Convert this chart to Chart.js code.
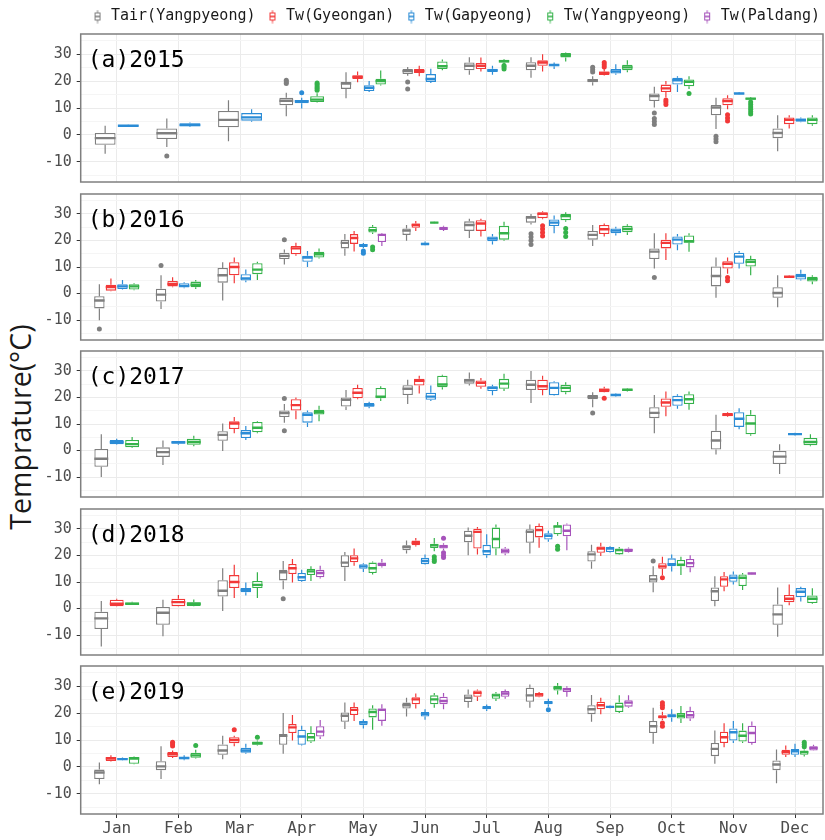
<!DOCTYPE html>
<html>
<head>
<meta charset="utf-8">
<title>Monthly temperature box plots</title>
<script src="https://cdn.jsdelivr.net/npm/chart.js@4.4.1/dist/chart.umd.min.js"></script>
<style>
  html, body { margin: 0; padding: 0; background: #fff; width: 825px; height: 840px; overflow: hidden; position: relative; }
  canvas.panel { position: absolute; left: 0; }
  #ytitle {
    position: absolute; left: 20px; top: 427px;
    transform: translate(-50%, -50%) rotate(-90deg);
    font: 28.5px "Open Sans", sans-serif; color: #1a1a1a; white-space: nowrap;
  }
</style>
</head>
<body>
<div id="ytitle">Temprature(°C)</div>
<script>
// ---- data: each entry is [lower whisker, Q1, median, Q3, upper whisker, [outliers]] ----
var months = ["Jan", "Feb", "Mar", "Apr", "May", "Jun", "Jul", "Aug", "Sep", "Oct", "Nov", "Dec"];
var seriesNames = ["Tair(Yangpyeong)", "Tw(Gyeongan)", "Tw(Gapyeong)", "Tw(Yangpyeong)", "Tw(Paldang)"];
var seriesColors = ["#7f7f7f", "#f23838", "#2b8cd6", "#35b24a", "#a653bb"];
var panelTags = ["(a)2015", "(b)2016", "(c)2017", "(d)2018", "(e)2019"];
var yTickValues = [-15, -10, -5, 0, 5, 10, 15, 20, 25, 30, 35];

var tair2015 = [[-7, -3.7, -1.2, 0.7, 3.4], [-4.5, -1.5, 0.6, 2.4, 6.1, [-7.8]], [-2.4, 2.8, 5.6, 8.9, 12.9],
  [6.9, 11, 12.7, 13.8, 15.7, [19.1, 19.7, 20.3]], [13.6, 17.1, 19.1, 19.7, 23.3], [22, 22.6, 23.7, 24.5, 25.2, [19.7, 17.1]],
  [22.4, 24, 25.7, 26.9, 28.9], [21.2, 24, 25.7, 27, 28.9], [18.4, 19.6, 20.2, 20.8, 21.8, [23.4, 24.2, 25.1]],
  [10.2, 12.6, 14.4, 15.4, 17.9, [8.1, 6.1, 5, 3.9]], [2.2, 7.3, 10.2, 11.1, 13.8, [-0.5, -1.5, -2.5]], [-6.1, -1.2, 0.7, 2.4, 7.3]];
var gyeongan2015 = [null, null, null, null, [19.6, 20.8, 21.5, 22.2, 23.6], [21.8, 23, 23.7, 24.5, 25.7],
  [23.6, 24.5, 25.7, 26.7, 28.8], [23.6, 25.7, 26.9, 27.7, 30], [22.1, 22.3, 23, 23.6, 24.5, [25.2, 26.1, 26.9]],
  [14, 15.9, 17.3, 18.7, 20, [13, 12.2, 11.3]], [9.5, 11, 12.6, 13.6, 14.7, [7.5, 6.3, 5.2]], [2.4, 4, 5.6, 6.5, 7.3]];
var gapyeong2015 = [[3, 3.2, 3.4, 3.6, 3.8], [2.9, 3.2, 3.7, 4.3, 4.6], [4.9, 5.3, 6.5, 8.1, 9.5],
  [9.8, 11.8, 12.5, 13, 13.8, [15.7]], [15.9, 16.3, 17.5, 18.5, 20], [19.3, 19.7, 20.8, 22.6, 24.6],
  [22.4, 23.4, 24, 24.6, 25.7], [24.5, 25.5, 26, 26.3, 26.9], [22.4, 22.8, 23.6, 24.5, 26.3],
  [15.9, 18.7, 20.3, 21.2, 21.8], [15, 15.1, 15.4, 15.7, 15.9], [4.7, 4.9, 5.6, 6.1, 6.5]];
var yangpyeong2015 = [null, null, null, [12, 12.2, 13.1, 14.4, 15.5, [16.6, 17.3, 18, 18.7, 19.3]], [18.4, 18.7, 20, 20.9, 23.9],
  [24, 24.5, 25.5, 27.3, 28], [26.1, 26.9, 27.4, 27.9, 28.2, [24.5, 25.2, 25.8]], [27.3, 28.8, 29.6, 30.4, 30.6],
  [23.3, 24, 25.1, 26.1, 27.7], [17.1, 18.1, 19.7, 20.6, 21.8, [15.4]],
  [13, 13.1, 13.5, 13.8, 14.1, [12.2, 11.3, 10.4, 9.5, 8.6, 7.8]], [3.4, 4, 5.6, 6.5, 7.3]];
var paldang2015 = [null, null, null, null, null, null, null, null, null, null, null, null];

var tair2016 = [[-10.1, -5.6, -2.6, -1, 3.5, [-13.4]], [-5.8, -3, -0.4, 1.8, 6.9, [10.6]], [-2.6, 4.1, 6.9, 9.6, 11.8],
  [10.9, 13, 14.2, 15.4, 16.6, [20.3]], [14.2, 17, 19.1, 20.3, 22.4], [19.9, 22.1, 23.7, 24.5, 25.8],
  [20.9, 23.6, 25.8, 27.2, 28.2], [26, 26.7, 28.6, 29.2, 30, [22.5, 21.3, 20, 18.5]], [17.9, 20.3, 22.1, 23.6, 25.8],
  [9.4, 13, 15.8, 17, 22.7, [6]], [-1.6, 2.7, 6.6, 10.2, 13.6], [-5.2, -1.6, 0.2, 2.4, 6.9]];
var gyeongan2016 = [[0.9, 1.1, 2.4, 3.3, 5.7], [2.4, 2.7, 3.6, 4.7, 6.1], [3.9, 6.9, 10, 11.8, 13.6],
  [14.2, 14.8, 17, 17.9, 19.1], [15.8, 18.7, 20.9, 22.4, 23.6], [23.6, 24.8, 25.8, 26.4, 27.3],
  [21.5, 23.6, 26.4, 27.6, 28.2], [28, 28.4, 30, 30.6, 31, [25.5, 24.3, 23, 21.7]], [21.5, 22.4, 24.2, 25.8, 26.4],
  [12.6, 17, 19.1, 20.3, 22.7], [7.5, 9.4, 11.2, 12.2, 13.6, [6, 4.8]], [5.9, 6.1, 6.3, 6.6, 6.8]];
var gapyeong2016 = [[1.5, 1.7, 2.7, 3.5, 5.1], [2, 2.3, 2.9, 3.9, 4.3], [4.3, 4.9, 5.7, 7.3, 9.1],
  [10, 12, 13.6, 14.2, 16], [17.2, 17.5, 18.2, 18.7, 19, [16, 15.2]], [18, 18.1, 18.7, 19.1, 19.6],
  [18.5, 19.7, 20.7, 21.5, 22.4], [22.7, 25.4, 26.7, 27.9, 29.4], [21.9, 22.7, 23.7, 24.5, 25.2],
  [16.3, 18.5, 20.3, 21.5, 22.4], [9.4, 11.2, 13.9, 15.4, 16], [4.9, 5.3, 6.6, 7.5, 9]];
var yangpyeong2016 = [[1.2, 1.5, 2.7, 3.5, 3.9], [1.7, 2.4, 3.3, 4.5, 5.1], [5.1, 7.3, 9, 11.4, 12],
  [13.2, 13.6, 14.8, 15.7, 17], [22.4, 23, 23.9, 25.2, 25.8, [17.5, 16.5]], [26.4, 26.5, 26.7, 26.9, 27],
  [19.9, 20.3, 22.7, 25.5, 27], [27, 27.6, 29.2, 30, 30.6, [24.5, 23, 21.5]], [22.1, 23.1, 24.3, 25.5, 26.1],
  [15.7, 19.1, 19.7, 21.9, 22.7], [6.9, 10.2, 12, 13, 14.2], [3.5, 4.5, 5.5, 6.3, 6.9]];
var paldang2016 = [null, null, null, null, [17.9, 19.4, 22.1, 22.4, 22.7], [23.6, 23.9, 24.5, 25.2, 25.5],
  null, null, null, null, null, null];

var tair2017 = [[-10, -6.1, -3.1, 0.6, 6.1], [-5.4, -2.4, -0.6, 1.2, 3.8], [-0.2, 3.7, 5.9, 7.3, 10.2],
  [10.5, 12.6, 14.1, 15.1, 17.5, [19.6, 7.5]], [15.3, 16.6, 19.1, 20, 22.8], [17.5, 20.9, 23.3, 24.6, 26.7],
  [24.5, 25.2, 26.4, 27, 29.4], [17.9, 22.8, 24.8, 26.7, 30], [16.3, 19.3, 20.2, 20.9, 22, [14.1]],
  [6.5, 12.2, 14.2, 16.3, 20.9], [-1.5, 0.4, 3.8, 7.5, 13.5], [-8.8, -5.1, -2.3, 0, 2.4]];
var gyeongan2017 = [null, null, [6.5, 8.1, 10.2, 11, 12.6], [11.8, 15.1, 17.1, 19.3, 20], [19.3, 19.7, 21.8, 23.6, 24.8],
  [21.5, 24.5, 26.3, 27, 28.2], [23.3, 24, 25.5, 26.4, 27.3], [20.8, 22.8, 24.2, 26.7, 28.2],
  [21.9, 22, 22.8, 23.4, 24, [19.7]], [12.9, 16.5, 18.1, 19.6, 22.2], [12.6, 12.9, 13.5, 14.1, 14.4], null];
var gapyeong2017 = [[2.2, 2.4, 3.1, 4, 4.4], [2.2, 2.6, 3.1, 3.4, 3.6], [4, 4.7, 6.5, 7.7, 9.2],
  [8.9, 10.5, 13.5, 14.4, 15.1], [15.9, 16.5, 17.1, 17.9, 18.4], [18.7, 19.1, 20.3, 21.8, 24.5],
  [20.8, 22.4, 23.6, 24.2, 24.8], [20.6, 20.8, 23.6, 25.7, 26.1], [20.4, 20.6, 20.9, 21.4, 21.6],
  [15.7, 16.9, 19, 20.6, 21.2], [8, 8.9, 12, 14.4, 15.9], [5.7, 5.9, 6.2, 6.5, 6.7]];
var yangpyeong2017 = [[1, 1.2, 2.4, 4, 5.1], [1.6, 2.2, 3.2, 4.4, 5.6], [6.5, 6.9, 8.6, 10.8, 11],
  [11, 13.6, 14.4, 15.4, 16.9], [18.7, 19.7, 20.3, 23.6, 24.2], [23, 23.8, 24.9, 28.2, 28.6],
  [22.4, 23.3, 25.2, 27, 28.9], [21.2, 22, 23.6, 24.8, 25.7], [22.2, 22.4, 22.9, 23.3, 23.5],
  [15.4, 17.5, 19.3, 21.2, 22.2], [5.6, 6.1, 10.2, 13.5, 15.3], [1.6, 2, 3.2, 4.7, 6.1]];
var paldang2017 = [null, null, null, null, null, null, null, null, null, null, null, null];

var tair2018 = [[-14.3, -7.7, -3.7, -1.2, 2.8], [-10.4, -6.1, -1.6, 0.6, 3.3], [-0.9, 4.5, 6.7, 10.7, 15.2],
  [7.3, 10.6, 13.7, 14.6, 17.9, [3.7]], [10.4, 15.6, 17.3, 20.1, 21.3], [20.7, 22, 23.2, 23.8, 25.6],
  [20.1, 25, 27.4, 29.3, 30.5], [20.7, 24.8, 28.9, 29.9, 31.7], [15, 17.7, 20.4, 21.6, 24],
  [6.1, 9.8, 11, 12.6, 15.9, [17.9]], [0.9, 2.8, 6.5, 7.9, 12.2], [-10.6, -6.1, -2.2, 1.5, 7.9]];
var gyeongan2018 = [[0.8, 0.9, 1.8, 3.3, 3.7], [0.8, 0.9, 2.4, 3.7, 5.1], [4, 7.7, 10, 12.6, 16.5],
  [9.8, 13, 15.2, 16.8, 18.7], [16.1, 17.4, 18.9, 20.1, 22.6], [23.4, 23.8, 24.8, 25.6, 26.6],
  [20.4, 22.6, 28.9, 30.1, 30.7], [22.9, 26.8, 29.6, 31.1, 32], [19.8, 21, 22.6, 23.4, 24.8],
  [12.6, 15, 15.9, 17.1, 19.5, [11.6]], [6.5, 8.2, 11, 12.2, 13.8], [1.2, 2.4, 3.7, 5.1, 9.1]];
var gapyeong2018 = [null, null, [4.9, 6.1, 7, 7.7, 9.8], [10.1, 10.4, 11.8, 13.4, 14.6], [13.8, 15, 15.9, 16.7, 17.1],
  [16.5, 16.7, 17.9, 19.1, 20.4], [19.1, 20.1, 21.6, 24, 28], [25.2, 26, 27.4, 28.4, 29.3],
  [21.1, 21.3, 22.6, 23.2, 23.5], [14, 15.9, 16.7, 18.9, 20.4], [9.1, 10.1, 11.6, 12.8, 14], [2.7, 4.3, 6.3, 7.7, 8.2]];
var yangpyeong2018 = [[1.3, 1.5, 1.8, 2.3, 2.6], [0.9, 1, 1.8, 2.4, 3.4], [4, 7.7, 8.9, 10.4, 13.7],
  [10.4, 12.6, 14, 14.9, 15.9], [12.8, 13.4, 15.2, 17.3, 17.7], [21.6, 22.8, 23.8, 24.4, 26.6, [19.5, 18.5, 17.7]],
  [20.1, 22.6, 26.2, 30.5, 31.7], [27.4, 28, 30.9, 31.3, 32.6, [23.5, 22.3]], [20.2, 20.4, 22, 22.6, 23.2],
  [12.6, 15.9, 16.5, 18.3, 19.5], [7, 8.5, 11.6, 12.8, 13.4], [1.8, 2.1, 3.7, 4.9, 7.6]];
var paldang2018 = [null, null, null, [11.3, 11.8, 13.4, 14.6, 16.1], [15.5, 15.9, 16.7, 17.3, 18.7],
  [22, 22.6, 23.4, 24, 24.6, [26.5, 21, 20, 19.2]], [20.1, 20.7, 21.7, 22.6, 23.2], [22, 27.2, 29.3, 31.7, 32],
  [21.1, 21.3, 22, 22.6, 23], [13.7, 15.5, 17.1, 18.7, 20.1], [12.9, 13, 13.2, 13.4, 13.5], null];

var tair2019 = [[-6.4, -4.5, -2.1, -1, 1.6], [-4.5, -1.2, 0.2, 2.1, 7.7], [2.8, 4.5, 6.1, 8.3, 11.6],
  [4.9, 8.2, 11.6, 12.2, 20], [14.1, 16.8, 19, 20.2, 23.9], [18.7, 21.7, 22.9, 23.9, 25.7],
  [22, 24.1, 25.7, 26.9, 28.8], [22, 24.2, 26.6, 29.4, 30.6], [16.8, 19.6, 21.4, 22.9, 26.7],
  [8.6, 12.6, 15.1, 17.1, 22], [1.2, 4, 6.7, 8.9, 13.5], [-6.1, -1.2, 0.9, 2.4, 6.5]];
var gyeongan2019 = [[2, 2.2, 3.1, 3.7, 4.3], [3.3, 3.7, 4.7, 5.5, 6.1, [7.8, 8.5, 9.2]], [7.7, 8.8, 10, 11, 11.6, [13.8]],
  [9.8, 12.6, 14.7, 15.9, 19.3], [17.1, 19.3, 21.2, 22.3, 23.9], [21.7, 23.3, 25.1, 25.9, 27.3],
  [24.5, 26.1, 27.5, 28.4, 28.8], [25.9, 26.1, 26.9, 27.5, 27.8], [19.6, 21.4, 22.9, 24.2, 25.7],
  [17.4, 18, 18.6, 19.2, 20.5, [22, 22.9, 23.8, 16.3, 15.1]], [7.3, 8.9, 11, 13.1, 16.2], [3.7, 4.5, 5.5, 6.4, 8]];
var gapyeong2019 = [[2.5, 2.7, 2.9, 3.3, 3.5], [2.5, 2.8, 3.3, 3.7, 4.3], [4.9, 5.3, 6.1, 7.1, 8.6],
  [8, 8.2, 11.3, 13.8, 15.3], [14.3, 15.5, 16.5, 17.1, 17.7], [17.5, 18.7, 19.6, 20.4, 21.4],
  [20.8, 21.4, 22, 22.6, 23.2], [22.4, 23.3, 23.9, 24.5, 25.3, [21.2]], [21.8, 22, 22.3, 22.6, 22.8],
  [16.8, 18.4, 19, 19.6, 21.4], [8.9, 9.8, 12.9, 14.3, 17.1], [3.7, 4.5, 5.8, 6.7, 8.6]];
var yangpyeong2019 = [[1, 1.2, 3.1, 3.7, 3.9], [3.1, 3.4, 4.3, 5.3, 6.4, [8]], [8, 8.2, 8.8, 9.4, 9.8, [11]],
  [8.9, 9.4, 11, 12.6, 15.1], [13.8, 18.4, 20.4, 21.7, 22.9], [22, 23.3, 25.1, 26.6, 27.5],
  [24.5, 25.3, 26.6, 27.3, 27.8], [26.9, 28.4, 29.4, 30.2, 31.2], [20, 20.4, 22.4, 23.9, 26.6],
  [16.3, 18, 19, 20, 22.6], [8.9, 9.4, 11.6, 13.5, 16.2], [3.9, 4.5, 5.5, 6.1, 6.5, [7.5, 8.3, 9.2]]];
var paldang2019 = [null, null, null, [10.4, 11.3, 13.1, 15.1, 17.4], [15.3, 17.1, 21.2, 21.7, 23.3],
  [21.4, 23.3, 24.5, 26.1, 27.5], [25.3, 26.1, 27.3, 28.2, 28.8], [26.1, 27.8, 28.8, 29.4, 30],
  [22, 22.4, 23.9, 24.8, 26.6], [17.1, 18, 19.2, 20.8, 22.4], [8.2, 8.9, 12.6, 15.3, 16.9], [6, 6.1, 7, 7.7, 8.2]];

var panels = [
  [tair2015, gyeongan2015, gapyeong2015, yangpyeong2015, paldang2015],
  [tair2016, gyeongan2016, gapyeong2016, yangpyeong2016, paldang2016],
  [tair2017, gyeongan2017, gapyeong2017, yangpyeong2017, paldang2017],
  [tair2018, gyeongan2018, gapyeong2018, yangpyeong2018, paldang2018],
  [tair2019, gyeongan2019, gapyeong2019, yangpyeong2019, paldang2019]
];

// ---- layout ----
var PANEL_LEFT = 80.7;
var PANEL_H = 150;
var PANEL_STEP = 157.5;
var FIRST_TOP = 34;
var MONO = "'DejaVu Sans Mono', monospace";

/**
 * Small box-plot glyph used as legend marker.
 */
function boxIcon(color) {
  var c = document.createElement("canvas");
  c.width = 8;
  c.height = 14;
  var g = c.getContext("2d");
  g.strokeStyle = color;
  g.lineWidth = 1;
  g.beginPath();
  g.moveTo(4, 0.5);
  g.lineTo(4, 13.5);
  g.stroke();
  g.fillStyle = "#fff";
  g.fillRect(1.5, 3.5, 5, 7);
  g.strokeRect(1.5, 3.5, 5, 7);
  g.lineWidth = 1.6;
  g.beginPath();
  g.moveTo(1.5, 7);
  g.lineTo(6.5, 7);
  g.stroke();
  return c;
}
var icons = seriesColors.map(boxIcon);

/**
 * Draws background, whiskers, medians, outliers, panel border and tag.
 */
var boxParts = {
  id: "boxParts",
  beforeDraw: function (chart) {
    var a = chart.chartArea;
    var ctx = chart.ctx;
    ctx.save();
    ctx.fillStyle = "#fff";
    ctx.fillRect(a.left, a.top, a.right - a.left, a.bottom - a.top);
    ctx.restore();
  },
  beforeDatasetsDraw: function (chart) {
    var y = chart.scales.y;
    var ctx = chart.ctx;
    var a = chart.chartArea;
    ctx.save();
    ctx.beginPath();
    ctx.rect(a.left, a.top, a.right - a.left, a.bottom - a.top);
    ctx.clip();
    chart.data.datasets.forEach(function (ds, d) {
      var meta = chart.getDatasetMeta(d);
      ds.stats.forEach(function (s, i) {
        if (!s) return;
        var bar = meta.data[i];
        ctx.strokeStyle = ds.borderColor;
        ctx.lineWidth = 1.2;
        ctx.beginPath();
        ctx.moveTo(bar.x, y.getPixelForValue(s[0]));
        ctx.lineTo(bar.x, y.getPixelForValue(s[1]));
        ctx.moveTo(bar.x, y.getPixelForValue(s[3]));
        ctx.lineTo(bar.x, y.getPixelForValue(s[4]));
        ctx.stroke();
      });
    });
    ctx.restore();
  },
  afterDatasetsDraw: function (chart, args, opts) {
    var y = chart.scales.y;
    var ctx = chart.ctx;
    var a = chart.chartArea;
    ctx.save();
    ctx.beginPath();
    ctx.rect(a.left, a.top, a.right - a.left, a.bottom - a.top);
    ctx.clip();
    chart.data.datasets.forEach(function (ds, d) {
      var meta = chart.getDatasetMeta(d);
      ds.stats.forEach(function (s, i) {
        if (!s) return;
        var bar = meta.data[i];
        var half = bar.width / 2;
        var ym = y.getPixelForValue(s[2]);
        ctx.strokeStyle = ds.borderColor;
        ctx.lineWidth = 2.4;
        ctx.beginPath();
        ctx.moveTo(bar.x - half, ym);
        ctx.lineTo(bar.x + half, ym);
        ctx.stroke();
        (s[5] || []).forEach(function (v) {
          ctx.fillStyle = ds.borderColor;
          ctx.beginPath();
          ctx.arc(bar.x, y.getPixelForValue(v), 2.5, 0, Math.PI * 2);
          ctx.fill();
        });
      });
    });
    ctx.restore();

    // panel border
    ctx.save();
    ctx.strokeStyle = "#7f7f7f";
    ctx.lineWidth = 1.5;
    ctx.strokeRect(a.left, a.top, a.right - a.left, a.bottom - a.top);
    // panel tag
    ctx.fillStyle = "#000";
    ctx.font = "23px " + MONO;
    ctx.textBaseline = "middle";
    ctx.fillText(opts.tag, a.left + 7, a.top + 27);
    ctx.restore();
  }
};

/**
 * Creates one year panel.
 */
function createPanel(p) {
  var isFirst = p === 0;
  var isLast = p === panels.length - 1;
  var panelTop = FIRST_TOP + PANEL_STEP * p;

  var canvas = document.createElement("canvas");
  canvas.className = "panel";
  var top, height, width = 825;
  if (isFirst) {
    top = 0;
    height = panelTop + PANEL_H + 12;
    width = 831;
  } else if (isLast) {
    top = panelTop - 12;
    height = 840 - top;
  } else {
    top = panelTop - 12;
    height = PANEL_H + 24;
  }
  canvas.width = width;
  canvas.height = height;
  canvas.style.top = top + "px";
  document.body.appendChild(canvas);

  var datasets = panels[p].map(function (stats, s) {
    return {
      label: seriesNames[s],
      data: months.map(function (m, i) {
        return { x: i, y: stats[i] ? [stats[i][1], stats[i][3]] : null };
      }),
      stats: stats,
      backgroundColor: "#fff",
      borderColor: seriesColors[s],
      borderWidth: 1.3,
      borderSkipped: false,
      skipNull: true,
      categoryPercentage: 0.75,
      barPercentage: 0.9,
      stack: "s" + s
    };
  });

  var scales = {
    x: {
      type: "linear",
      min: -0.584,
      max: 11.454,
      offset: false,
      afterBuildTicks: function (scale) {
        scale.ticks = months.map(function (m, i) { return { value: i }; });
      },
      afterFit: function (scale) {
        scale.height = isLast ? 26 : 0;
      },
      grid: {
        offset: false,
        color: "#ebebeb",
        drawTicks: isLast,
        tickLength: 4,
        tickColor: "#333"
      },
      border: { display: false },
      ticks: {
        display: isLast,
        autoSkip: false,
        maxRotation: 0,
        padding: 1,
        color: "#4d4d4d",
        font: { family: MONO, size: 16 },
        callback: function (v) { return months[Math.round(v)]; }
      }
    },
    y: {
      min: -17.5,
      max: 37.5,
      afterBuildTicks: function (scale) {
        scale.ticks = yTickValues.map(function (v) { return { value: v }; });
      },
      afterFit: function (scale) {
        scale.width = PANEL_LEFT;
      },
      grid: {
        color: function (c) { return c.tick && c.tick.value % 10 === 0 ? "#ebebeb" : "#f5f5f5"; },
        tickColor: function (c) { return c.tick && c.tick.value % 10 === 0 ? "#333" : "rgba(0,0,0,0)"; },
        tickLength: 4
      },
      border: { display: false },
      ticks: {
        autoSkip: false,
        padding: 5,
        color: "#4d4d4d",
        font: { family: MONO, size: 15 },
        callback: function (v) { return v % 10 === 0 ? String(v) : ""; }
      }
    }
  };
  if (isFirst) {
    // spacer on the right so the legend can run past the panel edge
    scales.pad = {
      type: "linear",
      position: "right",
      display: true,
      ticks: { display: false },
      grid: { display: false },
      border: { display: false },
      afterFit: function (scale) { scale.width = 8; }
    };
  }

  return new Chart(canvas, {
    type: "bar",
    data: { datasets: datasets },
    options: {
      responsive: false,
      animation: false,
      devicePixelRatio: 1,
      layout: {
        padding: { top: isFirst ? -2 : 12, bottom: isLast ? 0 : 12, left: 0, right: isFirst ? 0 : 2 }
      },
      scales: scales,
      plugins: {
        tooltip: { enabled: false },
        boxParts: { tag: panelTags[p] },
        legend: {
          display: isFirst,
          position: "top",
          align: "end",
          maxHeight: 36,
          labels: {
            usePointStyle: true,
            pointStyleWidth: 12,
            padding: 11,
            color: "#1a1a1a",
            font: { family: MONO, size: 15 },
            generateLabels: function () {
              return seriesNames.map(function (name, s) {
                return {
                  text: name,
                  pointStyle: icons[s],
                  fontColor: "#1a1a1a",
                  fillStyle: "#fff",
                  strokeStyle: seriesColors[s],
                  lineWidth: 0,
                  hidden: false,
                  datasetIndex: s
                };
              });
            }
          }
        }
      }
    },
    plugins: [boxParts]
  });
}

var charts = panels.map(function (d, p) { return createPanel(p); });
</script>
</body>
</html>
